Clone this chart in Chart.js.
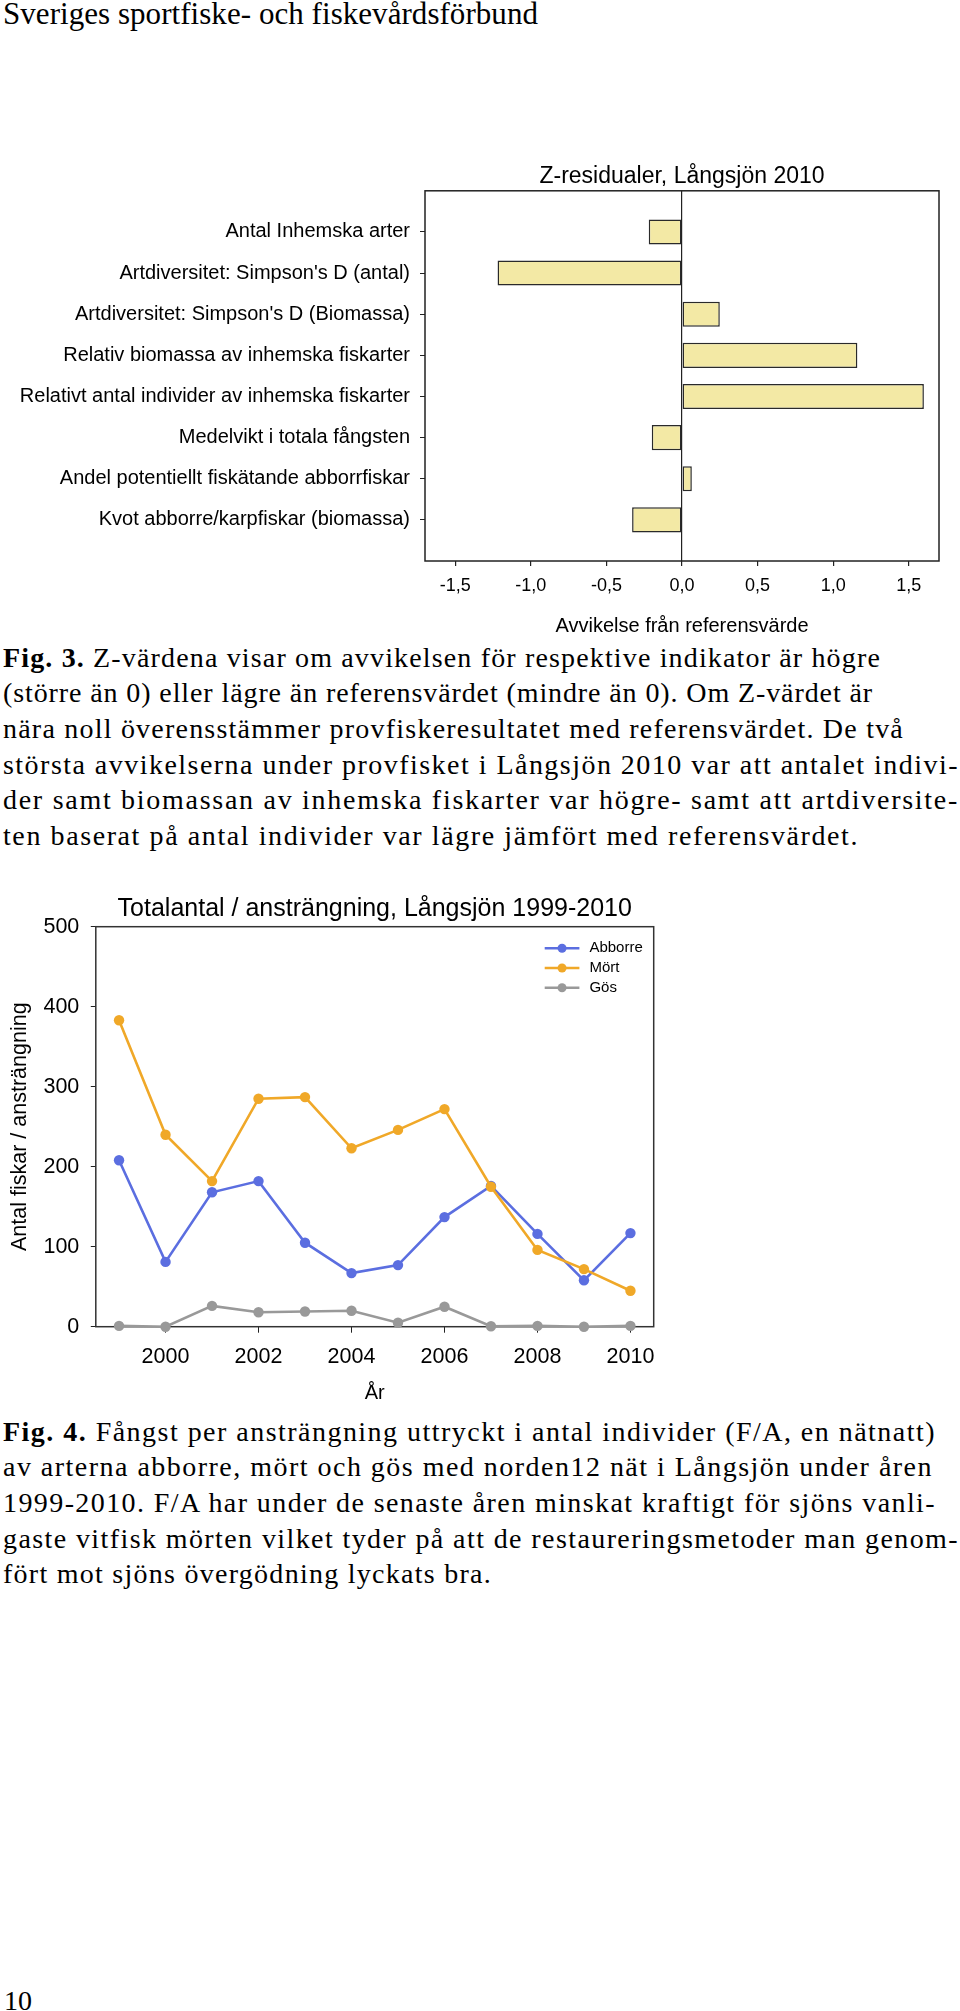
<!DOCTYPE html>
<html>
<head>
<meta charset="utf-8">
<script src="https://cdn.jsdelivr.net/npm/chart.js@4.4.1/dist/chart.umd.min.js"></script>
<style>
  body { margin: 0; width: 960px; height: 2011px; background: #fff; position: relative; overflow: hidden;
         font-family: 'Liberation Serif', 'Times New Roman', serif; color: #000; }
  canvas { position: absolute; left: 0; }
  .txt { position: absolute; left: 3px; font-size: 28px; line-height: 35.7px; white-space: nowrap; }
</style>
</head>
<body>
<div class="txt" style="top:-2px;font-size:31px;line-height:31px"><span data-w="535">Sveriges sportfiske- och fiskevårdsförbund</span></div>

<canvas id="zChart" width="960" height="490" style="top:150px"></canvas>

<div class="txt" style="top:639.5px">
  <div><span data-w="878"><b>Fig. 3.</b> Z-värdena visar om avvikelsen för respektive indikator är högre</span></div>
  <div><span data-w="870">(större än 0) eller lägre än referensvärdet (mindre än 0). Om Z-värdet är</span></div>
  <div><span data-w="901">nära noll överensstämmer provfiskeresultatet med referensvärdet. De två</span></div>
  <div><span data-w="956">största avvikelserna under provfisket i Långsjön 2010 var att antalet indivi-</span></div>
  <div><span data-w="956">der samt biomassan av inhemska fiskarter var högre- samt att artdiversite-</span></div>
  <div><span data-w="856">ten baserat på antal individer var lägre jämfört med referensvärdet.</span></div>
</div>

<canvas id="faChart" width="700" height="530" style="top:880px"></canvas>

<div class="txt" style="top:1413.5px">
  <div><span data-w="933"><b>Fig. 4.</b> Fångst per ansträngning uttryckt i antal individer (F/A, en nätnatt)</span></div>
  <div><span data-w="930">av arterna abborre, mört och gös med norden12 nät i Långsjön under åren</span></div>
  <div><span data-w="933">1999-2010. F/A har under de senaste åren minskat kraftigt för sjöns vanli-</span></div>
  <div><span data-w="956">gaste vitfisk mörten vilket tyder på att de restaureringsmetoder man genom-</span></div>
  <div><span data-w="489">fört mot sjöns övergödning lyckats bra.</span></div>
</div>

<div class="txt" style="top:1987px;font-size:28px;line-height:28px;left:4px">10</div>

<script>
// Fig. 3 data
const indicators = [
  'Antal Inhemska arter',
  "Artdiversitet: Simpson's D (antal)",
  "Artdiversitet: Simpson's D (Biomassa)",
  'Relativ biomassa av inhemska fiskarter',
  'Relativt antal individer av inhemska fiskarter',
  'Medelvikt i totala fångsten',
  'Andel potentiellt fiskätande abborrfiskar',
  'Kvot abborre/karpfiskar (biomassa)'
];
const zValues = [-0.22, -1.22, 0.25, 1.16, 1.60, -0.20, 0.065, -0.33];
const zTicks = [-1.5, -1.0, -0.5, 0, 0.5, 1.0, 1.5];

// Fig. 4 data
const years = ['1999', '2000', '2001', '2002', '2003', '2004', '2005', '2006', '2007', '2008', '2009', '2010'];
const abborre = [208, 81, 168, 182, 105, 67, 77, 137, 176, 116, 58, 117];
const mort = [383, 240, 182, 285, 287, 223, 246, 272, 175, 96, 72, 45];
const gos = [1, 0, 26, 18, 19, 20, 5, 25, 0.5, 1, 0, 1];

// fit the caption lines to the widths of the original
document.querySelectorAll('[data-w]').forEach(el => {
  const natural = el.getBoundingClientRect().width;
  const n = el.textContent.length;
  el.style.letterSpacing = ((+el.dataset.w - natural) / n) + 'px';
});

Chart.defaults.font.family = "'Liberation Sans', Arial, sans-serif";
Chart.defaults.color = '#000';

// box round the plot area
const frame = {
  id: 'frame',
  beforeDatasetsDraw(chart, args, opts) {
    const { ctx, chartArea: a } = chart;
    ctx.save();
    ctx.strokeStyle = opts.color;
    ctx.lineWidth = opts.width;
    ctx.strokeRect(a.left, a.top, a.right - a.left, a.bottom - a.top);
    ctx.restore();
  }
};

// legend drawn inside the plot, top right
const boxLegend = {
  id: 'boxLegend',
  afterDatasetsDraw(chart, args, o) {
    const { ctx, chartArea: a } = chart;
    ctx.save();
    ctx.font = o.font;
    ctx.textBaseline = 'middle';
    chart.data.datasets.forEach((ds, i) => {
      const y = a.top + o.top + i * o.rowGap;
      const x0 = a.right - o.right;
      ctx.strokeStyle = ds.borderColor;
      ctx.lineWidth = 2.5;
      ctx.beginPath();
      ctx.moveTo(x0, y);
      ctx.lineTo(x0 + o.lineLen, y);
      ctx.stroke();
      ctx.fillStyle = ds.backgroundColor;
      ctx.beginPath();
      ctx.arc(x0 + o.lineLen / 2, y, o.dot, 0, Math.PI * 2);
      ctx.fill();
      ctx.fillStyle = '#000';
      ctx.fillText(ds.label, x0 + o.lineLen + o.gap, y);
    });
    ctx.restore();
  }
};

// Fig. 3 - Z-residualer (empty slot above and below, as in the original)
const zLabels = ['', ...indicators, ''];

new Chart(document.getElementById('zChart'), {
  type: 'bar',
  data: {
    labels: zLabels,
    datasets: [{
      data: [null, ...zValues, null],
      backgroundColor: '#f3e9a5',
      borderColor: '#2a2a2a',
      borderWidth: 1.5,
      borderSkipped: false,
      barPercentage: 0.61,
      categoryPercentage: 1
    }]
  },
  options: {
    indexAxis: 'y',
    responsive: false,
    animation: false,
    layout: { padding: { top: 0, right: 21, bottom: 0, left: 0 } },
    plugins: {
      legend: { display: false },
      tooltip: { enabled: false },
      title: {
        display: true,
        text: 'Z-residualer, Långsjön 2010',
        fullSize: false,
        color: '#000',
        font: { size: 23, weight: 'normal' },
        padding: { top: 13.2, bottom: 0 }
      },
      frame: { color: '#222', width: 1.5 }
    },
    scales: {
      x: {
        type: 'linear',
        min: -1.7,
        max: 1.7,
        afterBuildTicks: s => { s.ticks = zTicks.map(v => ({ value: v })); },
        afterFit: s => { s.height = 79; },
        grid: {
          color: c => (c.tick && c.tick.value === 0) ? '#222' : 'transparent',
          lineWidth: 1.2,
          tickColor: '#222',
          tickLength: 5
        },
        border: { display: false },
        ticks: {
          color: '#000',
          font: { size: 18 },
          padding: 9,
          callback: v => v.toFixed(1).replace('.', ',')
        },
        title: {
          display: true,
          text: 'Avvikelse från referensvärde',
          color: '#000',
          font: { size: 20 },
          padding: { top: 0, bottom: 2 }
        }
      },
      y: {
        type: 'category',
        offset: false,
        afterFit: s => { s.width = 425; },
        grid: {
          offset: false,
          color: 'transparent',
          tickColor: c => (c.index === 0 || c.index === zLabels.length - 1) ? 'transparent' : '#222',
          tickLength: 5
        },
        border: { display: false },
        ticks: { color: '#000', font: { size: 20 }, padding: 10, autoSkip: false }
      }
    }
  },
  plugins: [frame]
});

// Fig. 4 - Totalantal / ansträngning
const blue = '#5b6ee0';
const orange = '#f0a828';
const grey = '#999999';

new Chart(document.getElementById('faChart'), {
  type: 'line',
  data: {
    labels: years,
    datasets: [
      { label: 'Abborre', data: abborre, borderColor: blue, backgroundColor: blue, order: 2 },
      { label: 'Mört', data: mort, borderColor: orange, backgroundColor: orange, order: 1 },
      { label: 'Gös', data: gos, borderColor: grey, backgroundColor: grey, order: 0 }
    ]
  },
  options: {
    responsive: false,
    animation: false,
    datasets: {
      line: { borderWidth: 2.6, pointRadius: 5.2, pointHoverRadius: 5.2, pointBorderWidth: 0, tension: 0, clip: false }
    },
    layout: { padding: { top: 0, right: 46.3, bottom: 0, left: 0 } },
    plugins: {
      legend: { display: false },
      tooltip: { enabled: false },
      title: {
        display: true,
        text: 'Totalantal / ansträngning, Långsjön 1999-2010',
        fullSize: false,
        color: '#000',
        font: { size: 25, weight: 'normal' },
        padding: { top: 14.3, bottom: 2.4 }
      },
      frame: { color: '#333', width: 1.5 },
      boxLegend: { font: "15px 'Liberation Sans', Arial, sans-serif", top: 21.6, rowGap: 19.7, right: 109, lineLen: 34.7, gap: 10, dot: 4.5 }
    },
    scales: {
      x: {
        type: 'category',
        offset: true,
        afterFit: s => { s.height = 83.3; },
        grid: {
          offset: false,
          color: 'transparent',
          tickColor: c => c.index % 2 ? '#222' : 'transparent',
          tickLength: 6
        },
        border: { display: false },
        ticks: {
          color: '#000',
          font: { size: 21.5 },
          padding: 11.2,
          autoSkip: false,
          maxRotation: 0,
          callback: (v, i) => i % 2 ? years[i] : ''
        },
        title: { display: true, text: 'År', color: '#000', font: { size: 20 }, padding: { top: 0, bottom: 5 } }
      },
      y: {
        min: 0,
        max: 500,
        afterFit: s => { s.width = 95.8; },
        grid: { color: 'transparent', tickColor: '#222', tickLength: 5 },
        border: { display: false },
        ticks: { stepSize: 100, color: '#000', font: { size: 21.5 }, padding: 11.5 },
        title: {
          display: true,
          text: 'Antal fiskar / ansträngning',
          color: '#000',
          font: { size: 21.5 },
          padding: { top: 7, bottom: 0 }
        }
      }
    }
  },
  plugins: [frame, boxLegend]
});
</script>
</body>
</html>
